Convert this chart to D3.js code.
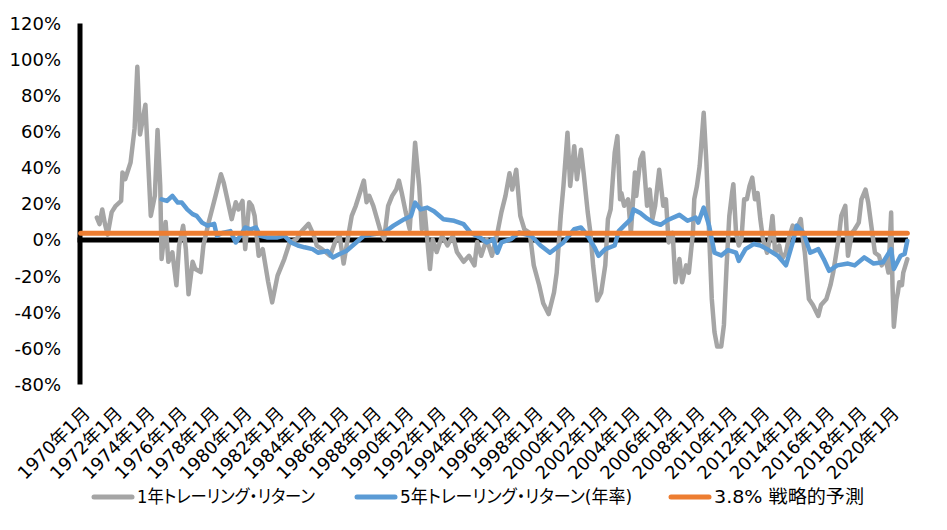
<!DOCTYPE html>
<html>
<head>
<meta charset="utf-8">
<script src="https://cdn.jsdelivr.net/npm/d3@7"></script>
<style>
  body { margin: 0; background: #fff; }
  text { font-family: "DejaVu Sans", "Noto Sans CJK JP", sans-serif; font-feature-settings: "palt"; fill: #000; }
</style>
</head>
<body>
<script>
// months on the category axis
var firstMonth = "1970-01",
    lastMonth = "2021-02";

var xTickLabels = ["1970年1月", "1972年1月", "1974年1月", "1976年1月", "1978年1月", "1980年1月",
  "1982年1月", "1984年1月", "1986年1月", "1988年1月", "1990年1月", "1992年1月", "1994年1月",
  "1996年1月", "1998年1月", "2000年1月", "2002年1月", "2004年1月", "2006年1月", "2008年1月",
  "2010年1月", "2012年1月", "2014年1月", "2016年1月", "2018年1月", "2020年1月"];

var yTicks = [-80, -60, -40, -20, 0, 20, 40, 60, 80, 100, 120];

var seriesNames = ["1年トレーリング・リターン", "5年トレーリング・リターン(年率)", "3.8% 戦略的予測"];

var forecast = 3.8;

// 1-year trailing return (%)
var oneYear = [
  ["1971-01", 12.5], ["1971-03", 8.8], ["1971-05", 17], ["1971-07", 9], ["1971-09", 3], ["1971-12", 15.5],
  ["1972-03", 19], ["1972-07", 21.7], ["1972-08", 37.5], ["1972-10", 33.7], ["1973-02", 43], ["1973-05", 62],
  ["1973-07", 96], ["1973-09", 58.5], ["1974-01", 75], ["1974-05", 13.4], ["1974-08", 24.5], ["1974-10", 61],
  ["1974-12", 30], ["1975-01", -10.5], ["1975-04", 10], ["1975-06", -12], ["1975-09", -6.8], ["1975-12", -25],
  ["1976-02", -3], ["1976-05", 8], ["1976-07", -5], ["1976-09", -30], ["1976-12", -12], ["1977-02", -16],
  ["1977-06", -17.7], ["1977-08", -3], ["1977-12", 10], ["1978-05", 24.5], ["1978-09", 36.5], ["1978-11", 32],
  ["1979-05", 11.6], ["1979-08", 21], ["1979-10", 17], ["1980-01", 21.7], ["1980-03", -5], ["1980-06", 21],
  ["1980-08", 19], ["1980-10", 13.4], ["1981-01", -8.7], ["1981-04", -5], ["1981-08", -23], ["1981-11", -34.5],
  ["1982-03", -19.7], ["1982-08", -10.5], ["1982-12", -1.3], ["1983-05", 0.5], ["1983-09", 5], ["1984-02", 9],
  ["1984-06", 2.4], ["1984-08", -3], ["1984-12", -5], ["1985-06", -8.7], ["1985-10", -0.4], ["1986-01", 2.4],
  ["1986-04", -13], ["1986-07", 0.5], ["1986-10", 13.4], ["1987-01", 19], ["1987-07", 33], ["1987-09", 21],
  ["1987-11", 24.5], ["1988-02", 19], ["1988-07", 6], ["1988-10", 0.5], ["1989-01", 19], ["1989-04", 24.5],
  ["1989-07", 28], ["1989-09", 33], ["1989-11", 26.5], ["1990-02", 15.5], ["1990-05", 6], ["1990-09", 54],
  ["1990-12", 30], ["1991-02", 6], ["1991-04", 17], ["1991-08", -16], ["1991-10", 0.5], ["1992-01", -6.6],
  ["1992-05", 2.4], ["1992-09", -3], ["1993-01", 2.4], ["1993-04", -6.6], ["1993-09", -12], ["1994-01", -8.7],
  ["1994-05", -14], ["1994-07", -1], ["1994-10", -8.7], ["1995-02", 0.5], ["1995-06", -8.7], ["1995-10", 4],
  ["1996-01", 15.5], ["1996-04", 24.5], ["1996-07", 37], ["1996-09", 28], ["1996-12", 39], ["1997-03", 13.4],
  ["1997-06", 6], ["1997-10", 4], ["1998-01", -14], ["1998-05", -25], ["1998-08", -35], ["1998-12", -41],
  ["1999-04", -29], ["1999-06", -18], ["1999-09", 13.4], ["1999-11", 30], ["2000-02", 59.5], ["2000-04", 30],
  ["2000-07", 52], ["2000-09", 33.7], ["2000-12", 50], ["2001-02", 37], ["2001-05", 15.5], ["2001-07", 4],
  ["2001-09", -14], ["2001-12", -33.5], ["2002-03", -29], ["2002-06", -14], ["2002-08", 11.6], ["2002-10", 17],
  ["2003-01", 48.5], ["2003-03", 57.6], ["2003-05", 22.6], ["2003-06", 26], ["2003-08", 19], ["2003-11", 22.6],
  ["2004-01", 4], ["2004-04", 37.4], ["2004-05", 24.5], ["2004-08", 44.7], ["2004-10", 48.4], ["2005-01", 19],
  ["2005-03", 28], ["2005-05", 11.6], ["2005-07", 19], ["2005-10", 39], ["2006-01", 19], ["2006-03", 22.6],
  ["2006-05", -1.3], ["2006-08", 4], ["2006-10", -23.4], ["2007-01", -10.5], ["2007-03", -23.4], ["2007-06", -14],
  ["2007-08", -18], ["2007-11", 4], ["2007-12", 22.6], ["2008-02", 30], ["2008-04", 41], ["2008-07", 70.5],
  ["2008-09", 43], ["2008-11", 4], ["2009-01", -32.6], ["2009-03", -51], ["2009-05", -59], ["2009-08", -59],
  ["2009-10", -47], ["2009-12", -14], ["2010-02", 13.4], ["2010-04", 26], ["2010-05", 31], ["2010-07", 4],
  ["2010-09", -3], ["2010-11", 0.5], ["2011-01", 22.6], ["2011-03", 22.6], ["2011-05", 30], ["2011-07", 34.6],
  ["2011-09", 22.6], ["2011-11", 26], ["2012-01", 11.6], ["2012-03", 0.5], ["2012-06", -7], ["2012-08", 0.5],
  ["2012-10", 13.4], ["2012-12", -7], ["2013-03", -3], ["2013-05", -10.5], ["2013-08", -7], ["2013-10", 0.5],
  ["2014-01", 8], ["2014-04", 6], ["2014-07", 11.6], ["2014-08", 4], ["2014-10", -7], ["2015-01", -32.6],
  ["2015-04", -36], ["2015-08", -42], ["2015-10", -36], ["2016-02", -32.6], ["2016-05", -25], ["2016-07", -18],
  ["2016-11", 0.5], ["2017-01", 13.4], ["2017-04", 19], ["2017-06", -8.7], ["2017-09", 4], ["2017-11", 6],
  ["2018-02", 9.7], ["2018-04", 22.6], ["2018-07", 28], ["2018-09", 20.8], ["2018-12", 4], ["2019-02", -7],
  ["2019-05", -8.7], ["2019-07", -14], ["2019-10", -10.5], ["2019-12", -18], ["2020-02", 15.3], ["2020-03", -25],
  ["2020-04", -48], ["2020-06", -32.6], ["2020-07", -29], ["2020-08", -23.4], ["2020-10", -25], ["2020-11", -18],
  ["2021-02", -10.5]
];

// 5-year trailing return, annualised (%)
var fiveYear = [
  ["1975-01", 22.6], ["1975-05", 21.7], ["1975-09", 24.5], ["1976-01", 20.8], ["1976-04", 20.8], ["1976-08", 17],
  ["1976-12", 14.4], ["1977-03", 13.4], ["1977-07", 9.7], ["1977-11", 8], ["1978-04", 9], ["1978-06", 2.4],
  ["1978-10", 4], ["1979-04", 5], ["1979-08", -1.3], ["1979-12", 3], ["1980-03", 7], ["1980-07", 6],
  ["1980-11", 7], ["1981-02", 2.4], ["1981-07", 1.5], ["1982-03", 1.5], ["1982-08", 2.4], ["1983-01", -1.3],
  ["1983-06", -3], ["1983-11", -4], ["1984-05", -5], ["1984-09", -7], ["1985-04", -6], ["1985-08", -9.6],
  ["1986-01", -7.7], ["1986-06", -6], ["1986-12", -2.2], ["1987-07", 2.4], ["1988-03", 3.3], ["1988-10", 4.2],
  ["1989-05", 8], ["1990-01", 11.6], ["1990-06", 13.4], ["1990-09", 20.8], ["1991-01", 17], ["1991-06", 18],
  ["1991-11", 16], ["1992-06", 11.6], ["1993-02", 10.7], ["1993-09", 8.8], ["1994-02", 4.2], ["1994-09", 1.5],
  ["1995-02", -1.3], ["1995-07", 0.5], ["1995-10", -7], ["1996-01", -1.3], ["1996-08", 0.5], ["1997-02", 4.2],
  ["1997-11", 2.4], ["1998-06", -3], ["1999-01", -7], ["1999-11", -1.3], ["2000-07", 6], ["2000-12", 7],
  ["2001-05", 2.4], ["2001-10", -4], ["2002-01", -8.7], ["2002-06", -5], ["2003-01", -3], ["2003-04", 5],
  ["2003-08", 8], ["2004-01", 11.6], ["2004-03", 17], ["2004-08", 15], ["2005-01", 12], ["2005-06", 9.7],
  ["2005-11", 8.5], ["2006-04", 11], ["2007-01", 14], ["2007-07", 10.7], ["2008-01", 12.5], ["2008-03", 9.7],
  ["2008-07", 18], ["2008-11", 8], ["2009-03", -7], ["2009-08", -8.5], ["2010-01", -5.5], ["2010-07", -7],
  ["2010-09", -11.5], ["2011-02", -5], ["2011-08", -2.2], ["2012-01", -3], ["2012-06", -5], ["2013-02", -8.7],
  ["2013-08", -14], ["2014-01", -1.3], ["2014-04", 8], ["2014-09", 4], ["2015-02", -7], ["2015-08", -5],
  ["2015-12", -10.5], ["2016-04", -17], ["2016-10", -14], ["2017-06", -13], ["2017-11", -14], ["2018-06", -9.6],
  ["2019-01", -13], ["2019-08", -12.3], ["2020-02", -5], ["2020-04", -16], ["2020-09", -8.7], ["2020-12", -7.7],
  ["2021-02", -0.4]
];

var colors = ["#a5a5a5", "#5b9bd5", "#ed7d31"];

function monthIndex(s) {
  var p = s.split("-");
  return (+p[0] - 1970) * 12 + (+p[1] - 1);
}

var width = 947, height = 530;
var nMonths = monthIndex(lastMonth) - monthIndex(firstMonth) + 1;

var svg = d3.select("body").append("svg")
    .attr("width", width)
    .attr("height", height);

var x = d3.scaleLinear().domain([-0.5, nMonths - 0.5]).range([80, 908]);
var y = d3.scaleLinear().domain([-80, 120]).range([384.5, 23.5]);

// y axis labels
svg.append("g").selectAll("text")
    .data(yTicks)
  .enter().append("text")
    .attr("x", 61)
    .attr("y", function (d) { return y(d); })
    .attr("dy", "0.35em")
    .attr("text-anchor", "end")
    .style("font-size", "18px")
    .text(function (d) { return d + "%"; });

// x axis labels, rotated
svg.append("g").selectAll("text")
    .data(xTickLabels)
  .enter().append("text")
    .attr("transform", function (d) {
      var m = d.match(/(\d+)年(\d+)月/);
      var i = (+m[1] - 1970) * 12 + (+m[2] - 1);
      return "translate(" + (x(i) + 6) + ",410) rotate(-45)";
    })
    .attr("dy", "0.35em")
    .attr("text-anchor", "end")
    .style("font-size", "18px")
    .text(function (d) { return d; });

// axes
svg.append("line")
    .attr("x1", 80).attr("x2", 80)
    .attr("y1", y(120)).attr("y2", y(-80))
    .style("stroke", "#000").style("stroke-width", 5);
svg.append("line")
    .attr("x1", 77.5).attr("x2", x(nMonths - 0.5))
    .attr("y1", y(0)).attr("y2", y(0))
    .style("stroke", "#000").style("stroke-width", 5);

var line = d3.line()
    .x(function (d) { return x(monthIndex(d[0])); })
    .y(function (d) { return y(d[1]); });

svg.append("path")
    .datum(oneYear)
    .attr("d", line)
    .style("fill", "none").style("stroke", colors[0])
    .style("stroke-width", 4.5).style("stroke-linejoin", "round").style("stroke-linecap", "round");

svg.append("path")
    .datum(fiveYear)
    .attr("d", line)
    .style("fill", "none").style("stroke", colors[1])
    .style("stroke-width", 4.5).style("stroke-linejoin", "round").style("stroke-linecap", "round");

svg.append("path")
    .datum([[firstMonth, forecast], [lastMonth, forecast]])
    .attr("d", line)
    .style("fill", "none").style("stroke", colors[2])
    .style("stroke-width", 5).style("stroke-linecap", "round");

// legend (text squeezed to the proportional kana widths of the original)
var legendX = [94, 357, 671],
    legendTextWidth = [178, 232, 150];
var legend = svg.append("g").selectAll("g")
    .data(seriesNames)
  .enter().append("g")
    .attr("transform", function (d, i) { return "translate(" + legendX[i] + ",497)"; });
legend.append("line")
    .attr("x1", 0).attr("x2", 38)
    .style("stroke", function (d, i) { return colors[i]; })
    .style("stroke-width", 5).style("stroke-linecap", "round");
legend.append("text")
    .attr("x", 43)
    .attr("dy", "0.35em")
    .attr("textLength", function (d, i) { return legendTextWidth[i]; })
    .attr("lengthAdjust", "spacingAndGlyphs")
    .style("font-size", "18px")
    .text(function (d) { return d; });
</script>
</body>
</html>
